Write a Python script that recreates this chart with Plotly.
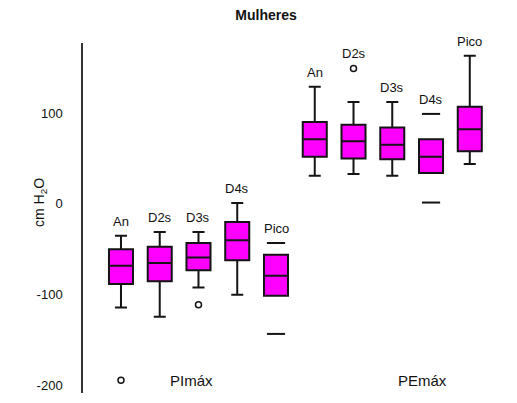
import plotly.graph_objects as go

# ---- data ----
groups = ["PImáx", "PEmáx"]
categories = ["An", "D2s", "D3s", "D4s", "Pico"]

pimax_upper = [-35, -31, -31, 1, -43]
pimax_q3 = [-50, -47, -43, -20, -56]
pimax_median = [-68, -65, -59, -40, -79]
pimax_q1 = [-88, -85, -73, -62, -101]
pimax_lower = [-114, -124, -92, -100, -143]

pemax_upper = [129, 112, 112, 99, 163]
pemax_q3 = [90, 87, 84, 71, 107]
pemax_median = [71, 69, 65, 52, 82]
pemax_q1 = [52, 50, 49, 34, 58]
pemax_lower = [31, 33, 31, 1.5, 44]

# outliers: (group, category, value)
outlier_group = ["PImáx", "PImáx", "PEmáx"]
outlier_cat = ["An", "D3s", "D2s"]
outlier_val = [-194, -111, 149]

# boxes whose whisker lines are not drawn (only the end caps show)
caps_only = [("PImáx", "Pico"), ("PEmáx", "D4s")]

y_ticks = [-200, -100, 0, 100]

# ---- build ----
pos = {}
x, q1, med, q3, lo, hi = [], [], [], [], [], []
stats = {
    "PImáx": (pimax_lower, pimax_q1, pimax_median, pimax_q3, pimax_upper),
    "PEmáx": (pemax_lower, pemax_q1, pemax_median, pemax_q3, pemax_upper),
}
p = 1
for g in groups:
    L, A, M, B, U = stats[g]
    for i, c in enumerate(categories):
        pos[(g, c)] = p
        x.append(p)
        q1.append(A[i]); med.append(M[i]); q3.append(B[i])
        if (g, c) in caps_only:
            lo.append(A[i]); hi.append(B[i])
        else:
            lo.append(L[i]); hi.append(U[i])
        p += 1

FONT = "Liberation Sans Narrow, Liberation Sans, Arial, sans-serif"
LINE = "#141414"

fig = go.Figure()
fig.add_trace(go.Box(
    x=x, q1=q1, median=med, q3=q3, lowerfence=lo, upperfence=hi,
    width=0.62, whiskerwidth=0.5,
    fillcolor="#ff00ff", line=dict(color=LINE, width=2),
    boxpoints=False, showlegend=False, hoverinfo="skip",
))

# caps for boxes without whisker lines
cx, cy = [], []
for g in groups:
    L, A, M, B, U = stats[g]
    for i, c in enumerate(categories):
        if (g, c) in caps_only:
            cx += [pos[(g, c)]] * 2
            cy += [L[i], U[i]]
fig.add_trace(go.Scatter(
    x=cx, y=cy, mode="markers",
    marker=dict(symbol="line-ew", size=13, line=dict(color=LINE, width=2)),
    showlegend=False, hoverinfo="skip",
))

# outliers
fig.add_trace(go.Scatter(
    x=[pos[(g, c)] for g, c in zip(outlier_group, outlier_cat)], y=outlier_val,
    mode="markers",
    marker=dict(symbol="circle-open", size=6, color=LINE, line=dict(width=1.5)),
    showlegend=False, hoverinfo="skip",
))

# category labels above each box
annotations = []
for g in groups:
    L, A, M, B, U = stats[g]
    for i, c in enumerate(categories):
        top = U[i]
        for og, oc, ov in zip(outlier_group, outlier_cat, outlier_val):
            if og == g and oc == c:
                top = max(top, ov)
        annotations.append(dict(
            x=pos[(g, c)], y=top, text=c, showarrow=False,
            yanchor="bottom", yshift=5,
            font=dict(family=FONT, size=13, color="#111"),
        ))

# group labels
annotations.append(dict(x=2.83, y=-194, text=groups[0], showarrow=False,
                        font=dict(family=FONT, size=15, color="#111")))
annotations.append(dict(x=8.79, y=-194, text=groups[1], showarrow=False,
                        font=dict(family=FONT, size=15, color="#111")))

# y title
annotations.append(dict(xref="paper", yref="paper", x=-0.103, y=0.543,
                        xanchor="center", yanchor="middle",
                        text="cm H<sub>2</sub>O", textangle=-90, showarrow=False,
                        font=dict(family=FONT, size=14, color="#111")))

fig.update_layout(
    width=509, height=395,
    margin=dict(l=75, r=17, t=35, b=10),
    paper_bgcolor="white", plot_bgcolor="white",
    title=dict(text="<b>Mulheres</b>", x=0.507, xanchor="center", y=0.982, yanchor="middle",
               font=dict(family=FONT, size=14, color="#111")),
    xaxis=dict(range=[0.02, 10.78], visible=False, showgrid=False, zeroline=False),
    yaxis=dict(range=[-208, 177], tickvals=y_ticks, ticktext=[str(v) for v in y_ticks],
               showgrid=False, zeroline=False, showline=True, linecolor="#333", linewidth=1.5,
               ticks="", ticklabelstandoff=16,
               tickfont=dict(family=FONT, size=13, color="#111")),
    annotations=annotations,
)

fig.write_html("out.html")
